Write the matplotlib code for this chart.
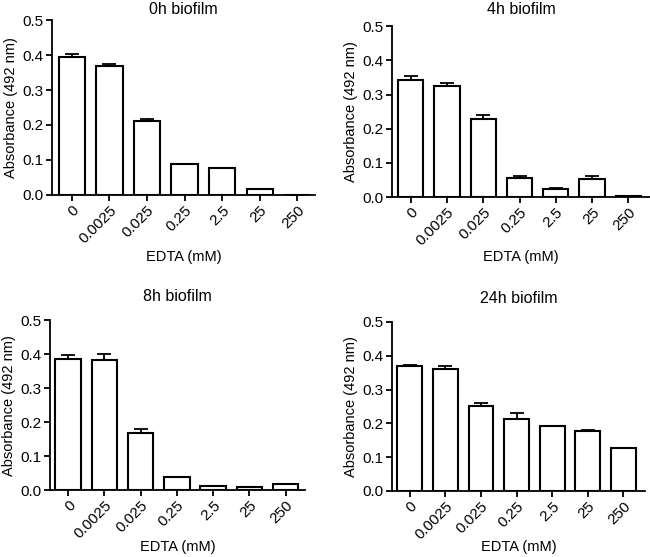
import matplotlib
matplotlib.use("Agg")
import matplotlib.pyplot as plt
import numpy as np

plt.rcParams['font.family'] = ['Liberation Sans', 'DejaVu Sans']

conc = ['0', '0.0025', '0.025', '0.25', '2.5', '25', '250']

titles = ['0h biofilm', '4h biofilm', '8h biofilm', '24h biofilm']

mean_0h = [0.393, 0.369, 0.210, 0.088, 0.076, 0.018, 0.0]
err_0h = [0.010, 0.005, 0.006, 0.0, 0.0, 0.0, 0.0]

mean_4h = [0.344, 0.324, 0.228, 0.056, 0.025, 0.054, 0.003]
err_4h = [0.011, 0.010, 0.012, 0.005, 0.001, 0.007, 0.001]

mean_8h = [0.387, 0.382, 0.169, 0.038, 0.012, 0.008, 0.018]
err_8h = [0.011, 0.019, 0.011, 0.0, 0.0, 0.0, 0.0]

mean_24h = [0.371, 0.361, 0.250, 0.213, 0.192, 0.177, 0.127]
err_24h = [0.002, 0.008, 0.011, 0.017, 0.0, 0.003, 0.0]

means = [mean_0h, mean_4h, mean_8h, mean_24h]
errs = [err_0h, err_4h, err_8h, err_24h]

# axes rectangles [left, bottom, width, height]
rects = [[0.080, 0.650, 0.405, 0.314],
         [0.603, 0.646, 0.397, 0.307],
         [0.077, 0.120, 0.392, 0.305],
         [0.603, 0.1185, 0.389, 0.3035]]
xlims = [(-0.53, 6.48), (-0.52, 6.6), (-0.5, 6.53), (-0.5, 6.6)]
# x label centre, in pixels from the top of the picture
xlab_px = [257, 257, 547, 547]
title_pad = [4, 9, 14, 14]

fig = plt.figure(figsize=(6.5, 5.57), dpi=100)
H = 557

for i in range(4):
    ax = fig.add_axes(rects[i])
    x = np.arange(len(conc))
    m = np.array(means[i])
    e = np.array(errs[i])
    ax.bar(x, m, width=0.7, color='white', edgecolor='black', linewidth=1.5,
           zorder=2)
    ax.errorbar(x, m, yerr=[np.zeros_like(e), e], fmt='none', ecolor='black',
                elinewidth=1.3, capsize=5, capthick=1.3, zorder=3)
    ax.set_xlim(*xlims[i])
    ax.set_ylim(0, 0.5)
    ax.set_yticks([0.0, 0.1, 0.2, 0.3, 0.4, 0.5])
    ax.set_yticklabels(['0.0', '0.1', '0.2', '0.3', '0.4', '0.5'])
    ax.set_xticks(x)
    ax.set_xticklabels(conc, rotation=45, ha='right', va='top',
                       rotation_mode='anchor')
    ax.spines['top'].set_visible(False)
    ax.spines['right'].set_visible(False)
    ax.spines['left'].set_linewidth(1.3)
    ax.spines['bottom'].set_linewidth(1.3)
    ax.tick_params(axis='both', direction='out', length=4, width=1.3,
                   labelsize=11, pad=2)
    ax.set_ylabel('Absorbance (492 nm)', fontsize=10.5, labelpad=3)
    ax.set_xlabel('EDTA (mM)', fontsize=10.5, va='center')
    bottom_px = H * (1 - rects[i][1])
    height_px = H * rects[i][3]
    ax.xaxis.set_label_coords(0.5, -(xlab_px[i] - bottom_px) / height_px)
    ax.set_title(titles[i], fontsize=11.5, pad=title_pad[i])
    for sp in ax.spines.values():
        sp.set_clip_on(False)

fig.savefig('out.png', dpi=100)
